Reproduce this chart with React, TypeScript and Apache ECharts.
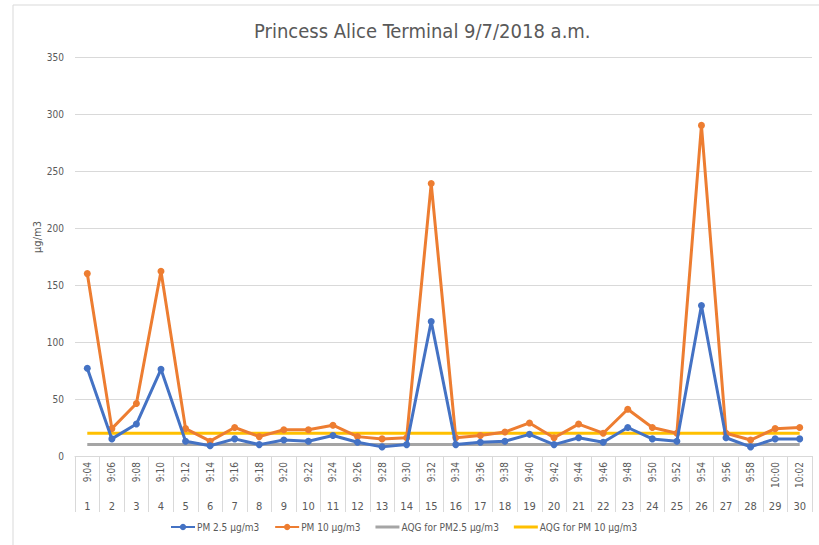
import React, { useEffect, useRef } from "react";
import * as echarts from "echarts";

const titleText = "Princess Alice Terminal 9/7/2018 a.m.";
const yAxisTitle = "µg/m3";
const times = ["9:04","9:06","9:08","9:10","9:12","9:14","9:16","9:18","9:20","9:22","9:24","9:26","9:28","9:30","9:32","9:34","9:36","9:38","9:40","9:42","9:44","9:46","9:48","9:50","9:52","9:54","9:56","9:58","10:00","10:02"];
const indices = times.map((_, i) => String(i + 1));
const pm25 = [77,15,28,76,13,9,15,10,14,13,18,12,8,10,118,10,12,13,19,10,16,12,25,15,13,132,16,8,15,15];
const pm10 = [160,24,46,162,24,13,25,17,23,23,27,17,15,16,239,16,18,21,29,16,28,20,41,25,20,290,20,14,24,25];
const aqg25 = times.map(() => 10);
const aqg10 = times.map(() => 20);
const seriesNames = ["PM 2.5 µg/m3", "PM 10 µg/m3", "AQG for PM2.5 µg/m3", "AQG for PM 10 µg/m3"];
const colors = ["#4472C4", "#ED7D31", "#A5A5A5", "#FFC000"];

const FONT = "Liberation Sans Narrow, DejaVu Sans Condensed, sans-serif";
const TXT = "#595959";
const LINE_ICON = "path://M0,0h0.01v0.01h-0.01z M0,2.6h24v2.8h-24z M0,8h0.01v0.01h-0.01z";

export default function App() {
  const ref = useRef<HTMLDivElement>(null);
  useEffect(() => {
    if (!ref.current) return;
    const chart = echarts.init(ref.current, null, { renderer: "svg" });
    const lineSeries = (name: string, data: number[], color: string, withSymbol: boolean, z: number) => ({
      name,
      type: "line",
      data,
      xAxisIndex: 0,
      yAxisIndex: 0,
      z,
      symbol: withSymbol ? "circle" : "none",
      symbolSize: 7,
      showSymbol: withSymbol,
      lineStyle: { color, width: 3 },
      itemStyle: { color },
    });
    chart.setOption({
      animation: false,
      backgroundColor: "#ffffff",
      textStyle: { fontFamily: FONT },
      title: {
        text: titleText,
        left: 249,
        top: 16,
        textStyle: { fontFamily: FONT, fontSize: 20, fontWeight: "normal", color: TXT },
      },
      grid: { left: 75, right: 7, top: 57, bottom: 89, containLabel: false },
      legend: {
        bottom: 8,
        left: 165,
        itemWidth: 24,
        itemHeight: 8,
        itemGap: 15,
        textStyle: { fontFamily: FONT, fontSize: 10, color: TXT, padding: [0, 0, 0, -3] },
        data: [
          { name: seriesNames[0] },
          { name: seriesNames[1] },
          { name: seriesNames[2], icon: LINE_ICON },
          { name: seriesNames[3], icon: LINE_ICON },
        ],
      },
      xAxis: [
        {
          type: "category",
          data: times,
          position: "bottom",
          boundaryGap: true,
          axisLine: { show: true, lineStyle: { color: "#d9d9d9", width: 1 } },
          axisTick: { show: true, interval: 0, length: 56, lineStyle: { color: "#d9d9d9" } },
          axisLabel: { interval: 0, rotate: 90, margin: 6, fontSize: 10, color: TXT, fontFamily: FONT },
          splitLine: { show: false },
        },
        {
          type: "category",
          data: indices,
          position: "bottom",
          boundaryGap: true,
          axisLine: { show: false },
          axisTick: { show: false },
          axisLabel: { interval: 0, margin: 45, fontSize: 11, color: TXT, fontFamily: FONT },
          splitLine: { show: false },
        },
      ],
      yAxis: {
        type: "value",
        min: 0,
        max: 350,
        interval: 50,
        axisLine: { show: false },
        axisTick: { show: false },
        axisLabel: { margin: 11, fontSize: 10, color: TXT, fontFamily: FONT },
        splitLine: { lineStyle: { color: "#d9d9d9", width: 1 } },
      },
      series: [
        lineSeries(seriesNames[0], pm25, colors[0], true, 4),
        lineSeries(seriesNames[1], pm10, colors[1], true, 3),
        lineSeries(seriesNames[2], aqg25, colors[2], false, 2),
        lineSeries(seriesNames[3], aqg10, colors[3], false, 2),
      ],
      graphic: [
        { type: "line", shape: { x1: 13, y1: 5, x2: 819, y2: 5 }, style: { stroke: "#d9d9d9", lineWidth: 1 } },
        { type: "line", shape: { x1: 13, y1: 5, x2: 13, y2: 545 }, style: { stroke: "#d9d9d9", lineWidth: 1 } },
        {
          type: "text",
          x: 37,
          y: 237,
          rotation: Math.PI / 2,
          style: { text: yAxisTitle, fill: TXT, font: `11px ${FONT}`, align: "center", verticalAlign: "middle" },
        },
      ],
    });
    return () => chart.dispose();
  }, []);
  return <div ref={ref} style={{ width: 819, height: 545, position: "absolute", left: 0, top: 0 }} />;
}
